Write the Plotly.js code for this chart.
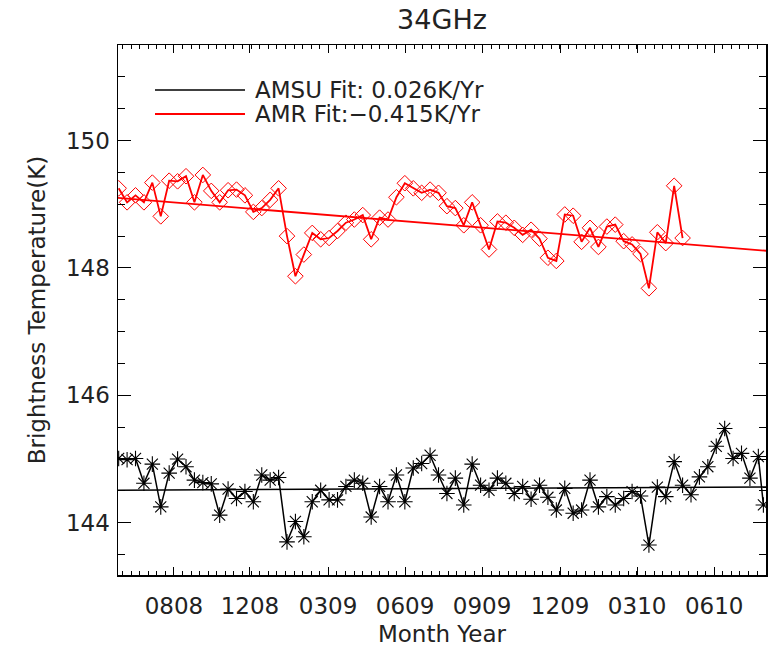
<!DOCTYPE html>
<html>
<head>
<meta charset="utf-8">
<script src="https://cdn.plot.ly/plotly-3.0.1.min.js"></script>
<style>html,body{margin:0;padding:0;background:#fff;}#chart{width:771px;height:650px;}</style>
</head>
<body>
<div id="chart"></div>
<script>
// Sample index (ten-day periods) for each point
const sampleIndex = [0,1,2,3,4,5,6,7,8,9,10,11,12,13,14,15,16,17,18,19,20,21,22,23,24,25,26,27,28,29,30,31,32,33,34,35,36,37,38,39,40,41,42,43,44,45,46,47,48,49,50,51,52,53,54,55,56,57,58,59,60,61,62,63,64,65,66,67,68,69,70,71,72,73,74,75,76,76.6];

// AMSU 34GHz brightness temperature (K)
const amsuTb = [145.01,144.99,145.01,144.62,144.92,144.25,144.78,145.00,144.88,144.67,
  144.63,144.61,144.12,144.53,144.38,144.49,144.33,144.75,144.67,144.71,
  143.70,144.02,143.78,144.33,144.51,144.36,144.36,144.57,144.67,144.62,
  144.09,144.57,144.33,144.75,144.33,144.86,144.93,145.06,144.75,144.46,
  144.70,144.28,144.92,144.59,144.51,144.70,144.62,144.46,144.57,144.37,
  144.59,144.40,144.20,144.54,144.15,144.20,144.67,144.25,144.41,144.28,
  144.38,144.49,144.42,143.65,144.56,144.41,144.96,144.59,144.44,144.72,
  144.88,145.20,145.48,145.01,145.09,144.70,145.04,144.28];

// AMR 34GHz brightness temperature (K)
const amrTb = [149.25,149.03,149.14,149.03,149.34,148.81,149.37,149.36,149.44,149.03,
  149.46,149.21,149.03,149.22,149.23,149.14,148.88,148.94,149.07,149.25,
  148.50,147.87,148.21,148.55,148.45,148.47,148.58,148.71,148.76,148.83,
  148.45,148.79,148.76,149.11,149.33,149.25,149.18,149.23,149.18,148.97,
  148.94,148.67,149.03,148.67,148.29,148.73,148.71,148.63,148.52,148.60,
  148.46,148.16,148.11,148.84,148.82,148.41,148.63,148.33,148.65,148.68,
  148.42,148.37,148.22,147.68,148.56,148.39,149.29,148.47];

// Linear fits (end points over the axis span)
const fitIndex = [-0.08, 76.91];
const amsuFit = [144.51, 144.56];
const amrFit = [149.10, 148.27];

// Axis ticks
const xTickIndex = [6.57, 15.6, 24.88, 34.03, 43.18, 52.45, 61.6, 70.75];
const xTickText = ['0808','1208','0309','0609','0909','1209','0310','0610'];
const yTickVals = [144, 146, 148, 150];
const yTickText = ['144','146','148','150'];
const legendText = ['AMSU Fit: 0.026K/Yr', 'AMR Fit:\u22120.415K/Yr'];

const xRange = [-0.08, 76.91];
const yRange = [143.18, 151.5];

// minor x ticks: 9 subdivisions of each major interval
const minorX = [];
const step = (xTickIndex[xTickIndex.length-1] - xTickIndex[0]) / (xTickIndex.length-1) / 9;
for (let v = xTickIndex[0]; v > xRange[0]; v -= step) minorX.push(v);
for (let v = xTickIndex[0]; v < xRange[1]; v += step) minorX.push(v);

const FONT = 'DejaVu Sans, Liberation Sans, sans-serif';

const traces = [
  {x: sampleIndex.slice(0, amrTb.length), y: amrTb, mode: 'lines+markers', showlegend: false,
   line: {color: '#ff0000', width: 1.8},
   marker: {symbol: 'diamond-open', size: 12, color: '#ff0000', line: {width: 1, color: '#ff0000'}}},
  {x: fitIndex, y: amrFit, mode: 'lines', showlegend: false, line: {color: '#ff0000', width: 1.8}},
  {x: sampleIndex, y: amsuTb, mode: 'lines+markers', showlegend: false,
   line: {color: '#000000', width: 1.5},
   marker: {symbol: 'asterisk-open', size: 13, color: '#000000', line: {width: 1.1, color: '#000000'}}},
  {x: fitIndex, y: amsuFit, mode: 'lines', showlegend: false, line: {color: '#000000', width: 1.5}}
];

const layout = {
  width: 771, height: 650,
  margin: {l: 118, r: 5, t: 45, b: 75},
  paper_bgcolor: '#ffffff', plot_bgcolor: '#ffffff',
  font: {family: FONT, color: '#000', size: 22},
  title: {text: '34GHz', x: 0.5, xref: 'paper', xanchor: 'center', y: 1 - 20/650, yref: 'container', yanchor: 'middle',
          font: {family: FONT, size: 27, color: '#222'}},
  xaxis: {
    range: xRange, tickmode: 'array', tickvals: xTickIndex, ticktext: xTickText,
    ticks: 'inside', ticklen: 8, tickwidth: 1, tickcolor: '#000',
    showline: true, linecolor: '#000', linewidth: 1.5, mirror: 'ticks',
    showgrid: false, zeroline: false, ticklabelstandoff: 10,
    tickfont: {family: FONT, size: 23, color: '#222'},
    title: {text: 'Month Year', font: {family: FONT, size: 23, color: '#222'}, standoff: 8},
    minor: {tickmode: 'array', tickvals: minorX, ticks: 'inside', ticklen: 4, tickcolor: '#000', tickwidth: 1, showgrid: false}
  },
  yaxis: {
    range: yRange, tickmode: 'array', tickvals: yTickVals, ticktext: yTickText,
    ticks: 'inside', ticklen: 13, tickwidth: 1, tickcolor: '#000',
    showline: true, linecolor: '#000', linewidth: 1.5, mirror: 'ticks',
    showgrid: false, zeroline: false, ticklabelstandoff: 2,
    tickfont: {family: FONT, size: 23, color: '#222'},
    title: {text: 'Brightness Temperature(K)', font: {family: FONT, size: 23, color: '#222'}, standoff: 14},
    minor: {tickmode: 'linear', tick0: 143.5, dtick: 0.5, ticks: 'inside', ticklen: 7, tickcolor: '#000', tickwidth: 1, showgrid: false}
  },
  shapes: [
    {type: 'line', xref: 'paper', yref: 'paper', x0: (155-118)/648, x1: (245-118)/648, y0: (575-90)/530, y1: (575-90)/530, line: {color: '#000', width: 1.5}},
    {type: 'line', xref: 'paper', yref: 'paper', x0: (155-118)/648, x1: (245-118)/648, y0: (575-114)/530, y1: (575-114)/530, line: {color: '#ff0000', width: 1.8}}
  ],
  annotations: [
    {xref: 'paper', yref: 'paper', x: (253-118)/648, y: (575-90)/530, xanchor: 'left', yanchor: 'middle', showarrow: false, text: legendText[0], font: {family: FONT, size: 23, color: '#222'}},
    {xref: 'paper', yref: 'paper', x: (253-118)/648, y: (575-114)/530, xanchor: 'left', yanchor: 'middle', showarrow: false, text: legendText[1], font: {family: FONT, size: 23, color: '#222'}}
  ],
  showlegend: false
};

Plotly.newPlot('chart', traces, layout, {displayModeBar: false, staticPlot: true});
</script>
</body>
</html>
